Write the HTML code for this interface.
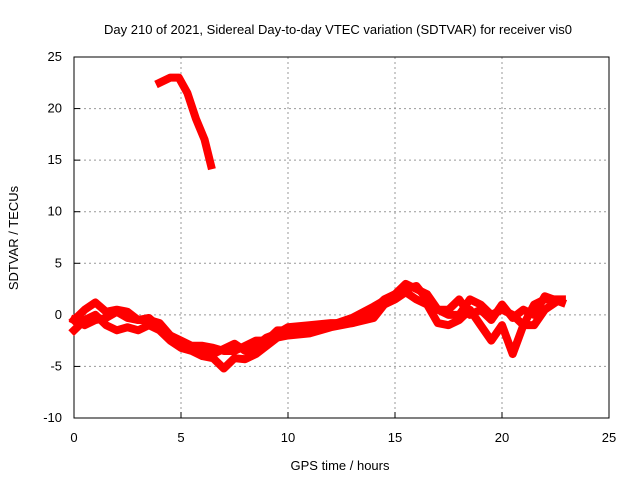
<!DOCTYPE html>
<html><head><meta charset="utf-8"><style>
body{margin:0;background:#fff;}
svg text{font-family:"Liberation Sans",sans-serif;font-size:13px;fill:#000;}
</style></head><body>
<svg width="640" height="480">
<g id="grid"></g>
<rect x="74" y="57" width="535" height="361" fill="none" stroke="#000"/>
<g id="ticks"></g>
<g id="series"></g>
<text x="338" y="34" text-anchor="middle">Day 210 of 2021, Sidereal Day-to-day VTEC variation (SDTVAR) for receiver vis0</text>
<text x="340" y="470" text-anchor="middle">GPS time / hours</text>
<text x="18" y="238" text-anchor="middle" transform="rotate(-90 18 238)">SDTVAR / TECUs</text>
</svg>
<script>
const xTicks=[0,5,10,15,20,25];
const yTicks=[-10,-5,0,5,10,15,20,25];
const arcX=[4,4.5,4.9,5.3,5.7,6.1,6.4];
const arcY=[22.5,23,23,21.5,19,17,14.5];
const t1X=[0,0.5,1,1.5,2,2.5,3,3.5,4,4.5,5,5.5,6,6.5,7,7.5,8,8.5,9,9.5,10,11,12,13,13.5,14,14.5,15,15.5,16,16.5,17,17.5,18,18.5,19,19.5,20,20.5,21,21.5,22,22.5,22.8];
const t1Y=[-0.5,0.5,1.2,0.3,0.5,0.3,-0.5,-0.3,-1.2,-2,-2.8,-3.2,-3.5,-3.8,-3.3,-2.8,-3.5,-3,-2.2,-1.8,-1.2,-1,-0.8,-0.8,-0.5,0.5,1.5,2,3,2.5,2,0.5,0,0,1.5,1,0,0.5,0,-1,1,1.5,1.5,1.5];
const t2X=[0,0.5,1,1.5,2,2.5,3,3.5,4,4.5,5,5.5,6,6.5,7,7.5,8,8.5,9,9.5,10,11,12,13,14,14.5,15,15.5,16,16.5,17,17.5,18,18.5,19,19.5,20,20.5,21,21.5,22,22.5];
const t2Y=[-1.5,-0.5,0,-1,-1.5,-1.2,-1.5,-1,-1.5,-2.5,-3.2,-3.5,-4,-4.2,-5.2,-4.2,-4.3,-3.8,-3,-2.2,-2,-1.8,-1.2,-0.8,-0.3,1,1.5,2.2,1.5,1,-0.8,-1,-0.5,0.5,-1,-2.5,-1,-3.8,-1,-1,0.5,1.2];
const t3X=[0,0.5,1,1.5,2,2.5,3,3.5,4,4.5,5,5.5,6,6.5,7,7.5,8,8.5,9,9.5,10,11,12,13,14,15,15.5,16,16.5,17,17.5,18,18.5,19,19.5,20,20.5,21,21.5,22,22.8];
const t3Y=[-0.5,-1,-0.5,-0.3,0.3,-0.3,-0.5,-0.5,-0.8,-2,-2.5,-3,-3,-3.2,-3.5,-3.5,-3,-2.5,-2.5,-1.5,-1.5,-1.2,-1,-0.3,0.8,2,2.5,2.8,1.5,0.5,0.5,1.5,0,0.5,-0.5,1,-0.3,0.5,0,1.8,1.2];
const NS="http://www.w3.org/2000/svg";
const X=v=>74+v*535/25, Y=v=>418-(v+10)*361/35;
const grid=document.getElementById('grid'), ticks=document.getElementById('ticks'), ser=document.getElementById('series');
function mk(tag,attrs,parent){const e=document.createElementNS(NS,tag);for(const k in attrs)e.setAttribute(k,attrs[k]);parent.appendChild(e);return e;}
xTicks.forEach(t=>{
  if(t>0&&t<25){const g=mk('line',{x1:X(t),x2:X(t),y1:57,y2:418,stroke:'#999','stroke-dasharray':'2,3'},grid);
  
  }
  const l=mk('text',{x:X(t),y:442,'text-anchor':'middle'},ticks);l.textContent=t;
  
  
  mk('line',{x1:X(t),x2:X(t),y1:418,y2:412,stroke:'#000'},ticks);
});
yTicks.forEach(t=>{
  if(t>-10&&t<25){const g=mk('line',{x1:74,x2:609,y1:Y(t),y2:Y(t),stroke:'#999','stroke-dasharray':'2,3'},grid);
  
  }
  const l=mk('text',{x:62,y:Y(t)+4,'text-anchor':'end'},ticks);l.textContent=t;
  
  
  mk('line',{x1:74,x2:80,y1:Y(t),y2:Y(t),stroke:'#000'},ticks);
});
[[arcX,arcY,'arc-track'],[t1X,t1Y,'track-1'],[t2X,t2Y,'track-2'],[t3X,t3Y,'track-3']].forEach(([xs,ys,n])=>{
  const p=mk('polyline',{points:xs.map((x,i)=>X(x)+','+Y(ys[i])).join(' '),fill:'none',stroke:'#f00','stroke-width':8,'stroke-linejoin':'round','stroke-linecap':'square'},ser);
  
  
});
</script>
</body></html>
